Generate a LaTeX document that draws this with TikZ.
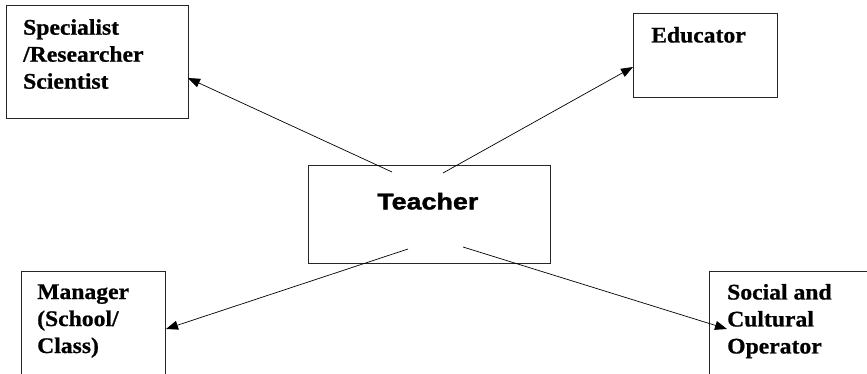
\documentclass[tikz,border=0pt]{standalone}
\usepackage{fontspec}
\usetikzlibrary{arrows.meta, positioning}
\newfontfamily\roleFont{Liberation Serif}[FakeStretch=1.06, BoldFeatures={FakeBold=0.8}]
\newfontfamily\teachFont{Liberation Sans}[FakeStretch=1.18, BoldFeatures={FakeBold=1.6}]

\begin{document}
\begin{tikzpicture}[
  x=1pt, y=-1pt,
  box/.style={draw=black!85, line width=0.8pt, anchor=north west, inner sep=0pt},
  role/.style={anchor=north west, inner sep=0pt, align=left, font=\roleFont\bfseries\fontsize{22.3}{27}\selectfont},
  link/.style={-{Triangle[length=12pt, width=9pt]}, line width=0.7pt}
]
  \useasboundingbox (0,0) rectangle (867,374);
  \clip (0,0) rectangle (867,374);

  % boxes
  \node[box, minimum width=182pt, minimum height=113pt] (spec) at (6,5) {};
  \node[box, minimum width=144pt, minimum height=84pt] (edu) at (633,13) {};
  \node[box, minimum width=242pt, minimum height=98pt] (teach) at (308,165) {};
  \node[box, minimum width=144pt, minimum height=140pt] (mgr) at (21,271) {};
  \node[box, minimum width=200pt, minimum height=140pt] (soc) at (709,271) {};

  % texts
  \node[role, below right=14pt and 17pt of spec.north west] (spectxt) {Specialist\\/Researcher\\Scientist};
  \node[role, below right=13.8pt and 18pt of edu.north west] (edutxt) {Educator};
  \node[anchor=north west, inner sep=0pt, font=\teachFont\bfseries\fontsize{22.8}{27}\selectfont,
        below right=27.7pt and 69pt of teach.north west] (teachtxt) {Teacher};
  \node[role, below right=13.2pt and 16pt of mgr.north west] (mgrtxt) {Manager\\(School/\\Class)};
  \node[role, below right=12.8pt and 18pt of soc.north west] (soctxt) {Social and\\Cultural\\Operator};

  % arrow ends
  \coordinate (t-nw) at (392,172);
  \coordinate (t-ne) at (443,173);
  \coordinate (t-sw) at (408,249);
  \coordinate (t-se) at (463,247);
  \coordinate (spec-in) at (188,78);
  \coordinate (edu-in) at (633,67);
  \coordinate (mgr-in) at (166,329);
  \coordinate (soc-in) at (727,329);

  \draw[link] (t-nw) -- (spec-in);
  \draw[link] (t-ne) -- (edu-in);
  \draw[link] (t-sw) -- (mgr-in);
  \draw[link] (t-se) -- (soc-in);
\end{tikzpicture}
\end{document}
